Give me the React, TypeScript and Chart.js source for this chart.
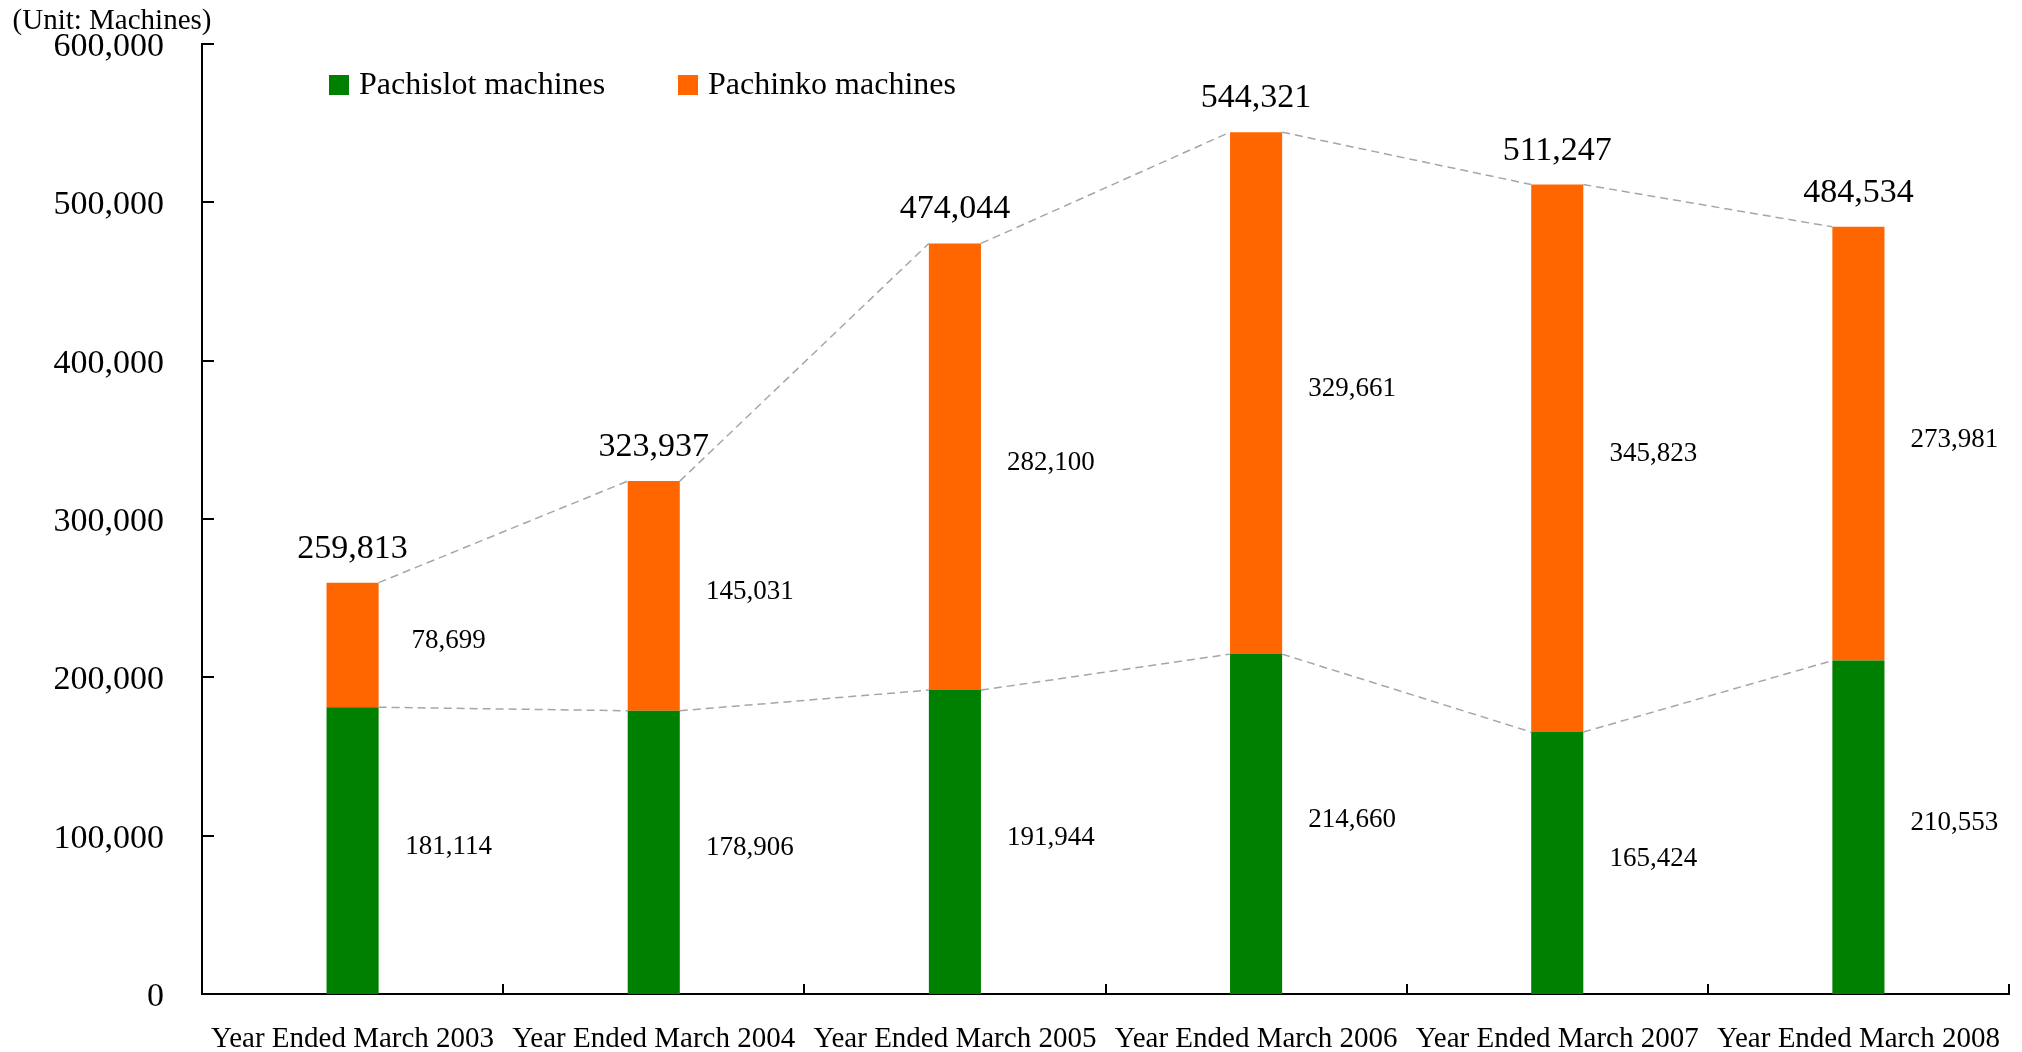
import React, { useEffect, useRef } from "react";
import { Chart, registerables } from "chart.js";

Chart.register(...registerables);

const categories = [
  "Year Ended March 2003",
  "Year Ended March 2004",
  "Year Ended March 2005",
  "Year Ended March 2006",
  "Year Ended March 2007",
  "Year Ended March 2008",
];
const pachislot = [181114, 178906, 191944, 214660, 165424, 210553];
const pachinko = [78699, 145031, 282100, 329661, 345823, 273981];
const seriesNames = ["Pachislot machines", "Pachinko machines"];
const seriesColors = ["#008000", "#FF6600"];
const unitLabel = "(Unit: Machines)";

const FONT = "'Liberation Serif', 'Times New Roman', serif";
const fmt = (v: number) => v.toLocaleString("en-US");

const decorPlugin = {
  id: "decor",
  afterDatasetsDraw(chart: any) {
    const ctx = chart.ctx as CanvasRenderingContext2D;
    const area = chart.chartArea;
    const yScale = chart.scales.y;
    const metas = [chart.getDatasetMeta(0), chart.getDatasetMeta(1)];

    // series lines
    ctx.save();
    ctx.strokeStyle = "#A6A6A6";
    ctx.lineWidth = 1.5;
    ctx.setLineDash([8, 5]);
    metas.forEach((meta: any) => {
      const els = meta.data;
      for (let i = 0; i < els.length - 1; i++) {
        const a = els[i].getProps(["x", "y", "width"], true);
        const b = els[i + 1].getProps(["x", "y", "width"], true);
        ctx.beginPath();
        ctx.moveTo(a.x + a.width / 2, a.y);
        ctx.lineTo(b.x - b.width / 2, b.y);
        ctx.stroke();
      }
    });
    ctx.restore();

    // inner tick marks
    ctx.save();
    ctx.strokeStyle = "#000";
    ctx.lineWidth = 2;
    yScale.ticks.forEach((t: any) => {
      const y = Math.round(yScale.getPixelForValue(t.value));
      ctx.beginPath();
      ctx.moveTo(area.left, y);
      ctx.lineTo(area.left + 12, y);
      ctx.stroke();
    });
    const n = categories.length;
    const catW = (area.right - area.left) / n;
    for (let i = 1; i <= n; i++) {
      const x = Math.round(area.left + i * catW);
      ctx.beginPath();
      ctx.moveTo(x, area.bottom);
      ctx.lineTo(x, area.bottom - 10);
      ctx.stroke();
    }
    ctx.restore();

    // segment value labels
    ctx.save();
    ctx.fillStyle = "#000";
    ctx.font = `27px ${FONT}`;
    ctx.textAlign = "center";
    ctx.textBaseline = "middle";
    const seriesVals = [pachislot, pachinko];
    metas.forEach((meta: any, d: number) => {
      meta.data.forEach((el: any, i: number) => {
        const p = el.getProps(["x", "y", "base", "width"], true);
        const mid = (p.y + p.base) / 2 - 4;
        ctx.fillText(fmt(seriesVals[d][i]), p.x + 96, mid);
      });
    });
    // totals
    ctx.font = `34px ${FONT}`;
    ctx.textBaseline = "alphabetic";
    metas[1].data.forEach((el: any, i: number) => {
      const p = el.getProps(["x", "y"], true);
      ctx.fillText(fmt(pachislot[i] + pachinko[i]), p.x, p.y - 25);
    });
    ctx.restore();

    // unit label
    ctx.save();
    ctx.fillStyle = "#000";
    ctx.font = `29px ${FONT}`;
    ctx.textAlign = "center";
    ctx.textBaseline = "alphabetic";
    ctx.fillText(unitLabel, 112, 29);
    ctx.restore();

    // legend
    ctx.save();
    ctx.font = `32px ${FONT}`;
    ctx.textAlign = "left";
    ctx.textBaseline = "middle";
    const legendX = [329, 678];
    seriesNames.forEach((name, k) => {
      ctx.fillStyle = seriesColors[k];
      ctx.fillRect(legendX[k], 75, 20, 20);
      ctx.fillStyle = "#000";
      ctx.fillText(name, legendX[k] + 30, 86);
    });
    ctx.restore();
  },
};

export default function App() {
  const ref = useRef<HTMLCanvasElement | null>(null);
  useEffect(() => {
    document.body.style.margin = "0";
    if (!ref.current) return;
    const chart = new Chart(ref.current, {
      type: "bar",
      data: {
        labels: categories,
        datasets: [
          {
            label: seriesNames[0],
            data: pachislot,
            backgroundColor: seriesColors[0],
            barPercentage: 0.173,
            categoryPercentage: 1,
          },
          {
            label: seriesNames[1],
            data: pachinko,
            backgroundColor: seriesColors[1],
            barPercentage: 0.173,
            categoryPercentage: 1,
          },
        ],
      },
      options: {
        responsive: false,
        animation: false,
        devicePixelRatio: 1,
        layout: { padding: { top: 44, right: 13, left: 0, bottom: 0 } },
        plugins: {
          legend: { display: false },
          tooltip: { enabled: false },
          title: { display: false },
        },
        scales: {
          x: {
            stacked: true,
            grid: { display: false, drawTicks: false },
            border: { display: true, color: "#000", width: 2 },
            ticks: {
              color: "#000",
              font: { family: FONT, size: 29 },
              padding: 28,
              maxRotation: 0,
              autoSkip: false,
            },
            afterFit: (axis: any) => {
              axis.height = 58;
              axis.paddingLeft = 0;
              axis.paddingRight = 0;
            },
          },
          y: {
            stacked: true,
            min: 0,
            max: 600000,
            grid: { display: false, drawTicks: false },
            border: { display: true, color: "#000", width: 2 },
            ticks: {
              stepSize: 100000,
              color: "#000",
              font: { family: FONT, size: 34 },
              padding: 38,
              labelOffset: 3,
              callback: (v: any) => fmt(Number(v)),
            },
            afterFit: (axis: any) => {
              axis.width = 202;
              axis.paddingTop = 0;
              axis.paddingBottom = 0;
            },
          },
        },
      },
      plugins: [decorPlugin],
    });
    return () => chart.destroy();
  }, []);
  return (
    <div style={{ position: "absolute", left: 0, top: 0, width: 2022, height: 1052, background: "#fff" }}>
      <canvas ref={ref} width={2022} height={1052} style={{ width: 2022, height: 1052, display: "block" }} />
    </div>
  );
}
